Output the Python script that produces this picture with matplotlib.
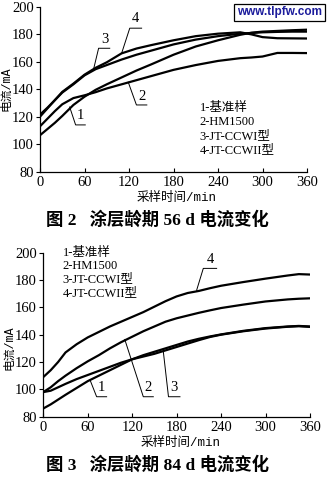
import matplotlib
matplotlib.use("Agg")
import matplotlib.pyplot as plt

plt.rcParams['font.family'] = ['Liberation Serif', 'Noto Sans CJK SC']

# 涂层龄期 56 d
t56 = [0, 10, 20, 30, 45, 60, 75, 90, 110, 130, 150, 180, 210, 240, 270, 285, 300, 320, 340, 360]
d56_1 = [106.5, 111, 115.5, 120.5, 128.5, 134.5, 139.5, 143.5, 148.5, 153.5, 158, 165, 171, 175.5, 179.5, 181, 181.8, 182.3, 182.8, 183.2]
d56_2 = [113, 118.5, 124, 129, 133.5, 135.5, 137.8, 140.5, 143.5, 146.5, 149.5, 154, 157.5, 160.5, 162.5, 163, 163.7, 166.3, 166.3, 166.2]
d56_3 = [121.5, 126.5, 132, 137.5, 143.5, 150, 154.5, 157.5, 161.5, 165, 168, 172.5, 176, 178.5, 180.3, 180.8, 181.3, 181.6, 181.8, 181.8]
d56_4 = [120, 126, 132, 138, 144, 150.5, 155.5, 159.5, 166, 169.5, 172, 175.5, 178.5, 180.3, 181.3, 179.8, 177.8, 177, 176.9, 176.8]

# 涂层龄期 84 d
t84 = [0, 10, 20, 30, 45, 60, 75, 90, 105, 120, 135, 150, 165, 180, 195, 210, 225, 240, 270, 300, 330, 345, 360]
d84_1 = [86, 89, 92.5, 96, 101, 106, 110, 114, 118, 122, 125, 127.5, 130, 132.5, 135, 137, 138.7, 140.2, 142.8, 144.8, 146, 146.4, 146]
d84_2 = [98, 101.5, 106, 110, 115.5, 120.5, 125, 130, 134.5, 138.5, 142.5, 146, 149.5, 152, 154, 156, 157.8, 159.5, 162, 164.3, 165.8, 166.3, 166.6]
d84_3 = [98, 99, 101.5, 104, 107.5, 110.5, 113.5, 116.5, 119.5, 122, 124, 126, 128.5, 131, 133.5, 136, 138.3, 140, 142.5, 144.5, 145.8, 146.2, 145.7]
d84_4 = [109, 114, 120, 127, 133, 138, 142, 146, 149.5, 153, 156.5, 160.5, 164.5, 168, 170.5, 172, 174, 175.8, 178.5, 181, 183.3, 184.3, 184]

names = ['1-基准样', '2-HM1500', '3-JT-CCWI型', '4-JT-CCWII型']
xticks = [0, 60, 120, 180, 240, 300, 360]
yticks = [80, 100, 120, 140, 160, 180, 200]

# leader lines: (label, text x, text y, underline x0, x1, y, curve x, curve y)
leaders56 = [('1', 54, 116, 48, 61, 114, 40, 127),
             ('2', 138, 130, 130, 144, 128.5, 119, 145),
             ('3', 87, 171.5, 79, 94, 169.7, 72, 154),
             ('4', 129, 186.5, 121, 137, 184.3, 110, 166)]
leaders84 = [('1', 79, 96.5, 72, 85.5, 94.6, 63, 107),
             ('2', 142, 96.5, 135, 148.5, 94.6, 110, 136.5),
             ('3', 176, 96.5, 169, 184.5, 94.6, 162, 127.8),
             ('4', 225, 190.5, 216, 234, 188.5, 207, 172.5)]

fig = plt.figure(figsize=(3.28, 4.8), dpi=100)
ax1 = fig.add_axes([0.122, 0.6423, 0.814, 0.344])
ax2 = fig.add_axes([0.132, 0.1319, 0.813, 0.3417])

lab_font = ['Liberation Mono', 'Noto Sans CJK SC']


def setup(ax, xl_pos, yl_pos):
    ax.set_xlim(0, 360)
    ax.set_ylim(80, 200)
    ax.set_xticks(xticks)
    ax.set_yticks(yticks)
    for s in ['top', 'right']:
        ax.spines[s].set_visible(False)
    for s in ['left', 'bottom']:
        ax.spines[s].set_linewidth(0.9)
    ax.tick_params(axis='x', direction='in', length=3, width=0.8, labelsize=10.5, pad=3)
    ax.tick_params(axis='y', direction='out', length=3, width=0.8, labelsize=10.5, pad=1.5)
    ax.text(xl_pos[0], xl_pos[1], '采样时间/min', fontsize=9, family=lab_font,
            ha='center', va='center', transform=ax.transAxes)
    ax.text(yl_pos[0], yl_pos[1], '电流/mA', fontsize=8.5, family=lab_font,
            rotation=90, ha='center', va='center', transform=ax.transAxes)


def draw_leaders(ax, leaders):
    for lab, tx, ty, u0, u1, uy, cx, cy in leaders:
        ax.plot([u1, u0, cx], [uy, uy, cy], color='black', lw=0.7)
        ax.text(tx, ty, lab, fontsize=10.5, ha='center', va='bottom')


setup(ax1, (0.51, -0.16), (-0.127, 0.5))
for y in [d56_1, d56_2, d56_3, d56_4]:
    ax1.plot(t56, y, color='black', lw=1.6)
draw_leaders(ax1, leaders56)
for i, n in enumerate(names):
    ax1.text(215, 126 - i * 10.2, n, fontsize=9, va='center')

setup(ax2, (0.513, -0.162), (-0.128, 0.42))
for y in [d84_1, d84_2, d84_3, d84_4]:
    ax2.plot(t84, y, color='black', lw=1.6)
draw_leaders(ax2, leaders84)
for i, n in enumerate(names):
    ax2.text(26, 200 - i * 9.8, n, fontsize=9, va='center')

fig.text(0.48, 0.542, '图 2   涂层龄期 56 d 电流变化', fontsize=12.5,
         fontweight='bold', ha='center', va='center')
fig.text(0.48, 0.031, '图 3   涂层龄期 84 d 电流变化', fontsize=12.5,
         fontweight='bold', ha='center', va='center')

fig.text(0.852, 0.974, 'www.tlpfw.com', fontsize=8.5, fontweight='bold',
         family='Liberation Sans', color='#1c1c9c', ha='center', va='center',
         bbox=dict(boxstyle='square,pad=0.25', fc='white', ec='black', lw=0.9))

fig.savefig('out.png', dpi=100, facecolor='white')
